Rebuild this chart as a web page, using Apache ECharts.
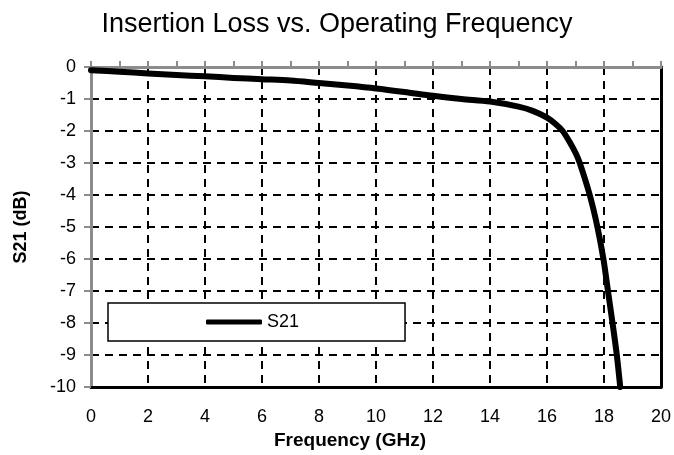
<!DOCTYPE html>
<html>
<head>
<meta charset="utf-8">
<script src="https://cdn.jsdelivr.net/npm/echarts@6/dist/echarts.min.js"></script>
<style>
html,body{margin:0;padding:0;background:#fff;}
#chart{width:674px;height:455px;}
</style>
</head>
<body>
<div id="chart"></div>
<script>
const titleText = 'Insertion Loss vs. Operating Frequency';
const xAxisName = 'Frequency (GHz)';
const yAxisName = 'S21 (dB)';
const seriesName = 'S21';
const frequency = [0, 1, 2, 3, 4, 5, 6, 7, 8, 9, 10, 11, 12, 13, 14, 15, 15.5, 16, 16.3, 16.55, 16.8, 17.0, 17.15, 17.5, 17.77, 17.98, 18.14, 18.3, 18.45, 18.57];
const s21 = [-0.1, -0.15, -0.2, -0.25, -0.29, -0.34, -0.38, -0.42, -0.5, -0.58, -0.67, -0.78, -0.9, -1.0, -1.08, -1.24, -1.37, -1.58, -1.78, -2.0, -2.35, -2.68, -3, -4, -5, -6, -7, -8, -9, -10];

const FONT = '"Liberation Sans", Arial, sans-serif';
const chart = echarts.init(document.getElementById('chart'));
const grid = {left: 91, right: 13, top: 67, bottom: 65};
chart.setOption({
  animation: false,
  backgroundColor: '#fff',
  title: {
    text: titleText, left: 'center', top: 6,
    textStyle: {fontFamily: FONT, fontSize: 27, fontWeight: 'normal', color: '#000'}
  },
  grid: grid,
  legend: {
    left: 108, top: 303,
    orient: 'horizontal',
    backgroundColor: '#fff',
    borderColor: '#000', borderWidth: 1.5,
    padding: [10, 106, 10, 98],
    itemWidth: 56, itemHeight: 5, itemGap: 5,
    data: [{name: seriesName, icon: 'roundRect'}],
    textStyle: {fontFamily: FONT, fontSize: 18, color: '#000', lineHeight: 18, padding: [0, 0, 0, 0]}
  },
  xAxis: [{
    type: 'value', position: 'bottom', min: 0, max: 20, interval: 2,
    name: xAxisName, nameLocation: 'middle', nameGap: 43,
    nameTextStyle: {fontFamily: FONT, fontSize: 19, fontWeight: 'bold', color: '#000', padding: [0, 52, 0, 0]},
    axisLine: {show: true, onZero: false, lineStyle: {color: '#000', width: 3}},
    axisTick: {show: false},
    axisLabel: {fontFamily: FONT, fontSize: 18, color: '#000', margin: 21},
    splitLine: {show: true, lineStyle: {color: '#000', width: 2, type: [8, 6]}}
  }, {
    type: 'value', position: 'top', min: 0, max: 20, interval: 1,
    axisLine: {show: true, onZero: false, lineStyle: {color: '#8c8c8c', width: 3}},
    axisTick: {show: true, inside: false, length: 6, lineStyle: {color: '#8c8c8c', width: 2}},
    axisLabel: {show: false},
    splitLine: {show: false}
  }],
  yAxis: [{
    type: 'value', position: 'left', min: -10, max: 0, interval: 1,
    name: yAxisName, nameLocation: 'middle', nameGap: 61, nameRotate: 90,
    nameTextStyle: {fontFamily: FONT, fontSize: 18, fontWeight: 'bold', color: '#000'},
    axisLine: {show: true, onZero: false, lineStyle: {color: '#8c8c8c', width: 3}},
    axisTick: {show: true, inside: false, length: 7, lineStyle: {color: '#8c8c8c', width: 2}},
    axisLabel: {fontFamily: FONT, fontSize: 18, color: '#000', margin: 15},
    splitLine: {show: true, lineStyle: {color: '#000', width: 2, type: [8, 6]}}
  }, {
    type: 'value', position: 'right', min: -10, max: 0, interval: 1,
    axisLine: {show: true, onZero: false, lineStyle: {color: '#000', width: 3}},
    axisTick: {show: false},
    axisLabel: {show: false},
    splitLine: {show: false}
  }],
  series: [{
    name: seriesName, type: 'line',
    xAxisIndex: 0, yAxisIndex: 0,
    data: frequency.map((f, i) => [f, s21[i]]),
    showSymbol: false, symbol: 'none',
    smooth: 0.3,
    itemStyle: {color: '#000'},
    lineStyle: {color: '#000', width: 6, cap: 'round', join: 'round'},
    z: 3
  }]
});
</script>
</body>
</html>
